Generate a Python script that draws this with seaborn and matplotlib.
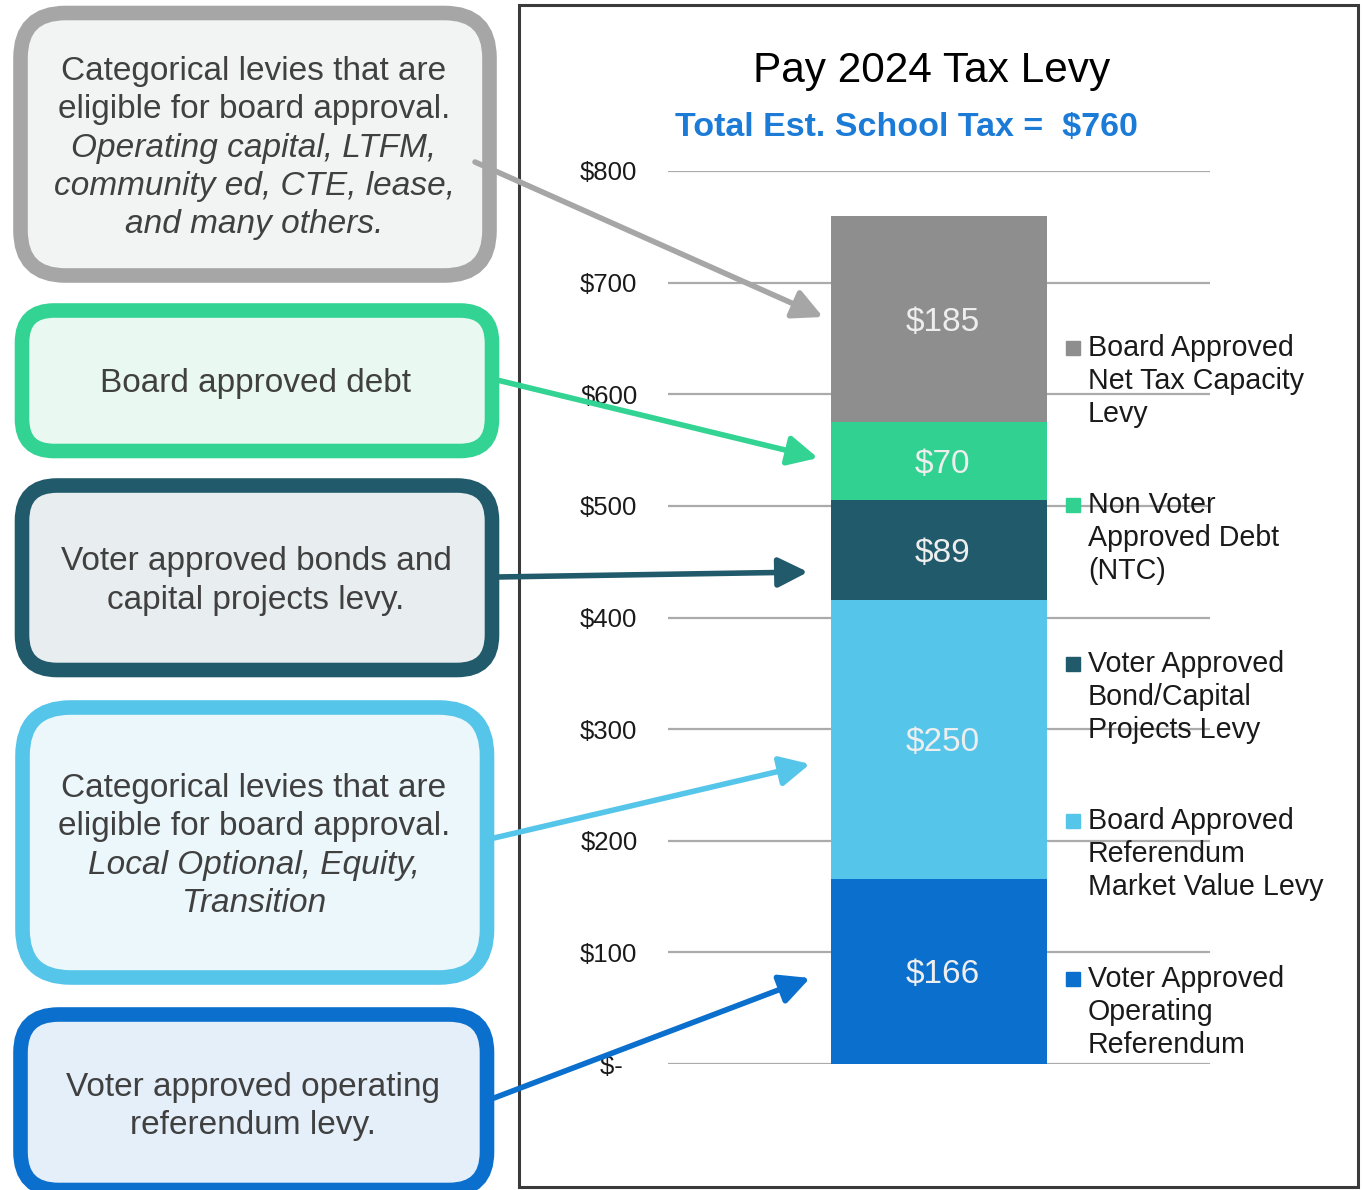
import numpy as np
import matplotlib.pyplot as plt
from matplotlib.patches import FancyBboxPatch, Rectangle
import seaborn as sns

# levy components, bottom of the stack first
segments = [
    "Voter Approved\nOperating\nReferendum",
    "Board Approved\nReferendum\nMarket Value Levy",
    "Voter Approved\nBond/Capital\nProjects Levy",
    "Non Voter\nApproved Debt\n(NTC)",
    "Board Approved\nNet Tax Capacity\nLevy",
]
amounts = [166, 250, 89, 70, 185]
colors = ["#0A6FCD", "#56C5EA", "#215A6B", "#31D191", "#8E8E8E"]

yticks = [0, 100, 200, 300, 400, 500, 600, 700, 800]
ytick_labels = ["$-  ", "$100", "$200", "$300", "$400", "$500", "$600", "$700", "$800"]

title = "Pay 2024 Tax Levy"
subtitle = "Total Est. School Tax =  $760"

# callout boxes on the left, top to bottom
callout_plain = [
    ["Categorical levies that are", "eligible for board approval."],
    ["Board approved debt"],
    ["Voter approved bonds and", "capital projects levy."],
    ["Categorical levies that are", "eligible for board approval."],
    ["Voter approved operating", "referendum levy."],
]
callout_italic = [
    ["Operating capital, LTFM,", "community ed, CTE, lease,", "and many others."],
    [],
    [],
    ["Local Optional, Equity,", "Transition"],
    [],
]
callout_edge = ["#A6A6A6", "#33D393", "#215A6B", "#56C5EA", "#0A6FCD"]
callout_fill = ["#F2F3F3", "#E9F9F2", "#E8EDF0", "#EBF7FB", "#E4EFFA"]

# layout in pixels (x0, y0, x1, y1, corner radius), first baseline, line step
box_geom = [
    (20.5, 13, 489.5, 275.5, 45),
    (22, 310.5, 492, 451, 32),
    (22, 485.5, 492, 670, 35),
    (22.5, 707.5, 487, 977.5, 48),
    (20.5, 1014.5, 487, 1190, 38),
]
box_text = [(254, 80, 38.3), (256, 392, 38), (256, 570, 39.5), (254, 797, 38.4), (253, 1096, 38)]
arrows = [
    ((475, 162), (823, 317)),
    ((497, 380), (818, 458)),
    ((497, 577), (808, 572)),
    ((494, 838), (810, 764)),
    ((494, 1098), (810, 978)),
]
legend_baselines = [356, 513, 672, 829, 987]

sns.set_style("white")
plt.rcParams["font.family"] = ["Liberation Sans", "DejaVu Sans"]

W, H = 1362, 1190
fig = plt.figure(figsize=(W / 100, H / 100), dpi=100)
ax = fig.add_axes([668 / W, 1 - 1064 / H, 542 / W, 893 / H])
ax.patch.set_alpha(0)

cum = np.cumsum(amounts)
for top, c in zip(cum[::-1], colors[::-1]):
    sns.barplot(x=["Pay 2024"], y=[top], color=c, saturation=1, width=0.8,
                linewidth=0, ax=ax)

mids = cum - np.array(amounts) / 2
for v, m in zip(amounts, mids):
    ax.annotate(f"${v}", xy=(0, m), xytext=(2.5, -8.6), textcoords="offset points",
                ha="center", va="baseline", fontsize=24, color="#EEEEEE")

ax.set_xlim(-1.0, 1.0)
ax.set_ylim(0, 800)
ax.set_yticks(yticks, ytick_labels)
ax.set_xticks([])
ax.set_xlabel("")
ax.set_ylabel("")
ax.tick_params(axis="y", length=0, pad=22, labelsize=18.5, labelcolor="#1A1A1A")
sns.despine(ax=ax, left=True, bottom=True)
ax.yaxis.grid(True, color="#ABABAB", lw=1.6)
ax.set_axisbelow(True)

# overlay in pixel coordinates for frame, callouts, arrows and legend
ov = fig.add_axes([0, 0, 1, 1])
ov.set_xlim(0, W)
ov.set_ylim(H, 0)
ov.axis("off")
ov.patch.set_alpha(0)

ov.add_patch(Rectangle((519, 5), 1358 - 519, 1187 - 5, fill=False,
                       edgecolor="#3A3A3A", lw=2.2))

ov.text(932, 82, title, ha="center", va="baseline", fontsize=30.5, color="black")
ov.text(906, 136, subtitle, ha="center", va="baseline", fontsize=24.5,
        fontweight="bold", color="#1B7BD6")

for i in range(5):
    x0, y0, x1, y1, r = box_geom[i]
    ov.add_patch(FancyBboxPatch((x0, y0), x1 - x0, y1 - y0,
                                boxstyle=f"round,pad=0,rounding_size={r}",
                                facecolor=callout_fill[i], edgecolor=callout_edge[i],
                                lw=10.5, clip_on=False))
    cx, b, step = box_text[i]
    lines = [(t, "normal") for t in callout_plain[i]] + [(t, "italic") for t in callout_italic[i]]
    for k, (t, st) in enumerate(lines):
        ov.text(cx, b + k * step, t, ha="center", va="baseline", fontsize=24,
                fontstyle=st, color="#404040")

for (start, tip), c in zip(arrows, callout_edge):
    ov.annotate("", xy=tip, xytext=start,
                arrowprops=dict(arrowstyle="-|>,head_length=0.9,head_width=0.45",
                                color=c, lw=4, mutation_scale=20,
                                shrinkA=0, shrinkB=0))

# legend, top segment first
for label, c, b in zip(segments[::-1], colors[::-1], legend_baselines):
    ov.add_patch(Rectangle((1066, b - 15), 14, 14, color=c))
    for k, t in enumerate(label.split("\n")):
        ov.text(1088, b + k * 33, t, ha="left", va="baseline", fontsize=20.6,
                color="#1A1A1A")

fig.savefig("out.png", dpi=100)
